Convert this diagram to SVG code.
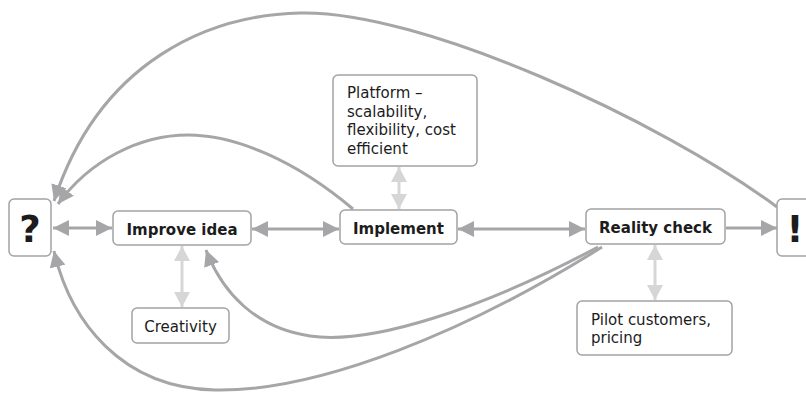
<svg xmlns="http://www.w3.org/2000/svg" width="806" height="393" viewBox="0 0 806 393">
  <defs>
    <style>
      .box { fill: #ffffff; stroke: #a3a3a3; stroke-width: 1.5; }
      .lbl { font-family: "DejaVu Sans", "Liberation Sans", sans-serif; font-size: 15px; fill: #1c1c1c; }
      .bold { font-weight: bold; }
      .big { font-family: "DejaVu Sans", "Liberation Sans", sans-serif; font-weight: bold; font-size: 37px; fill: #1c1c1c; text-anchor: middle; }
      .link { fill: none; stroke: #a6a6a9; stroke-width: 3; }
      .soft { fill: none; stroke: #d6d6d6; stroke-width: 3; }
    </style>
    <marker id="head" markerUnits="userSpaceOnUse" viewBox="0 0 16 16" refX="16" refY="8" markerWidth="16" markerHeight="16" orient="auto-start-reverse">
      <path d="M0,0 L16,8 L0,16 z" fill="#a6a6a9"/>
    </marker>
    <marker id="softhead" markerUnits="userSpaceOnUse" viewBox="0 0 16 16" refX="15" refY="8" markerWidth="16" markerHeight="16" orient="auto-start-reverse">
      <path d="M0,0 L15,8 L0,16 z" fill="#d6d6d6"/>
    </marker>
  </defs>

  <rect width="806" height="393" fill="#ffffff"/>

  <!-- connectors -->
  <g id="connectors">
    <!-- main flow -->
    <line class="link" x1="53" y1="228" x2="112" y2="228" marker-start="url(#head)" marker-end="url(#head)"/>
    <line class="link" x1="252" y1="229" x2="339" y2="229" marker-start="url(#head)" marker-end="url(#head)"/>
    <line class="link" x1="458" y1="229" x2="585" y2="229" marker-start="url(#head)" marker-end="url(#head)"/>
    <line class="link" x1="726" y1="228" x2="777" y2="228" marker-end="url(#head)"/>
    <!-- feedback loops back to the start -->
    <path class="link" d="M777,207 C660,120 420,10 300,13 C210,15 100,60 54,201" marker-end="url(#head)"/>
    <path class="link" d="M353,209 C295,160 235,135 188,135 C140,135 90,160 58,204" marker-end="url(#head)"/>
    <path class="link" d="M598,247 C480,310 370,345 310,336 C255,328 222,292 206,250" marker-end="url(#head)"/>
    <path class="link" d="M602,247 C470,330 320,392 215,390 C120,388 70,320 54,251" marker-end="url(#head)"/>
    <!-- attribute links -->
    <line class="soft" x1="399" y1="167" x2="399" y2="209" marker-start="url(#softhead)" marker-end="url(#softhead)"/>
    <line class="soft" x1="182" y1="246" x2="182" y2="307" marker-start="url(#softhead)" marker-end="url(#softhead)"/>
    <line class="soft" x1="655" y1="245" x2="655" y2="300" marker-start="url(#softhead)" marker-end="url(#softhead)"/>
  </g>

  <!-- nodes -->
  <g id="start">
    <rect class="box" x="9" y="199" width="42" height="57" rx="5"/>
    <text class="big" x="30" y="242">?</text>
  </g>
  <g id="improve-idea">
    <rect class="box" x="113" y="211" width="138" height="34" rx="5"/>
    <text class="lbl bold" x="182" y="235" text-anchor="middle">Improve idea</text>
  </g>
  <g id="implement">
    <rect class="box" x="340" y="210" width="117" height="34" rx="5"/>
    <text class="lbl bold" x="398.5" y="234" text-anchor="middle">Implement</text>
  </g>
  <g id="reality-check">
    <rect class="box" x="586" y="209" width="139" height="35" rx="5"/>
    <text class="lbl bold" x="655.5" y="233" text-anchor="middle">Reality check</text>
  </g>
  <g id="end">
    <rect class="box" x="777" y="199" width="42" height="57" rx="5"/>
    <text class="big" x="795" y="242">!</text>
  </g>
  <g id="platform">
    <rect class="box" x="333" y="75" width="144" height="91" rx="5"/>
    <text class="lbl" x="347" y="98">Platform –<tspan x="347" dy="18.5">scalability,</tspan><tspan x="347" dy="18.5">flexibility, cost</tspan><tspan x="347" dy="18.5">efficient</tspan></text>
  </g>
  <g id="creativity">
    <rect class="box" x="132" y="308" width="97" height="35" rx="5"/>
    <text class="lbl" x="180.5" y="332" text-anchor="middle">Creativity</text>
  </g>
  <g id="pilot-customers">
    <rect class="box" x="577" y="301" width="155" height="54" rx="5"/>
    <text class="lbl" x="591" y="325">Pilot customers,<tspan x="591" dy="18">pricing</tspan></text>
  </g>
</svg>
